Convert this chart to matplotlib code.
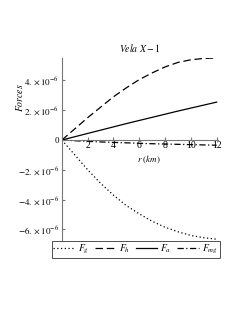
import matplotlib
matplotlib.use('Agg')
import matplotlib.pyplot as plt
import numpy as np

# values (units of 1e-6)
r = [0, 1, 2, 3, 4, 5, 6, 7, 8, 9, 10, 11, 12]
F_g = [0, -1.0, -2.0, -2.9, -3.7, -4.4, -4.95, -5.45, -5.85, -6.15, -6.4, -6.55, -6.65]
F_h = [0, 0.75, 1.5, 2.2, 2.9, 3.5, 4.05, 4.5, 4.9, 5.2, 5.38, 5.47, 5.5]
F_a = [0, 0.22, 0.44, 0.66, 0.88, 1.1, 1.31, 1.52, 1.73, 1.94, 2.14, 2.34, 2.54]
F_mg = [0, -0.05, -0.09, -0.13, -0.16, -0.19, -0.22, -0.25, -0.27, -0.29, -0.31, -0.33, -0.35]
xticks = [2, 4, 6, 8, 10, 12]
yticks = [-6, -4, -2, 0, 2, 4]

plt.rcParams['font.family'] = ['Liberation Serif', 'DejaVu Serif']
plt.rcParams['mathtext.fontset'] = 'stix'

fig = plt.figure(figsize=(2.4, 3.1), dpi=100)
ax = fig.add_axes([0.258, 0.226, 0.65, 0.587])

s = 1e-6
ax.plot(r, np.array(F_g) * s, color='black', lw=0.9, ls=(0, (1, 2)), label='$F_g$')
ax.plot(r, np.array(F_h) * s, color='black', lw=0.9, ls=(0, (6, 3)), label='$F_h$')
ax.plot(r, np.array(F_a) * s, color='black', lw=0.9, ls='-', label='$F_a$')
ax.plot(r, np.array(F_mg) * s, color='black', lw=0.9, ls=(0, (5, 2, 1, 2)), label='$F_{mg}$')

ax.set_xlim(0, 12.1)
ax.set_ylim(-6.7e-6, 5.5e-6)

for sp in ['top', 'right']:
    ax.spines[sp].set_visible(False)
ax.spines['bottom'].set_position(('data', 0))
ax.spines['left'].set_color('#777777')
ax.spines['bottom'].set_color('#777777')
ax.spines['left'].set_linewidth(0.8)
ax.spines['bottom'].set_linewidth(0.8)

ax.set_xticks(xticks)
ax.set_xticklabels([str(t) for t in xticks], fontsize=7)
ax.set_yticks([t * s for t in yticks])
ylabels = []
for t in yticks:
    if t == 0:
        ylabels.append('0')
    elif t < 0:
        ylabels.append('$-%d.\\times10^{-6}$' % (-t))
    else:
        ylabels.append('$%d.\\times10^{-6}$' % t)
ax.set_yticklabels(ylabels, fontsize=6.5)
ax.tick_params(axis='x', direction='in', length=2, pad=1, color='#777777')
ax.tick_params(axis='y', direction='in', length=2, pad=2, color='#777777')

ax.set_title('$Vela\\ X-1$', fontsize=7, pad=4)
ax.text(-0.27, 0.78, '$Forces$', transform=ax.transAxes, rotation=90,
        fontsize=7, ha='center', va='center')
ax.text(0.56, 0.44, '$r\\ (km)$', transform=ax.transAxes,
        fontsize=6.5, ha='center', va='center')

leg = fig.legend(loc='center', bbox_to_anchor=(0.565, 0.195), ncol=4,
                 fontsize=7, frameon=True, fancybox=False, handlelength=2.2,
                 handletextpad=0.3, columnspacing=0.6, borderpad=0.2)
leg.get_frame().set_edgecolor('black')
leg.get_frame().set_linewidth(0.6)

fig.savefig('out.png', dpi=100)
